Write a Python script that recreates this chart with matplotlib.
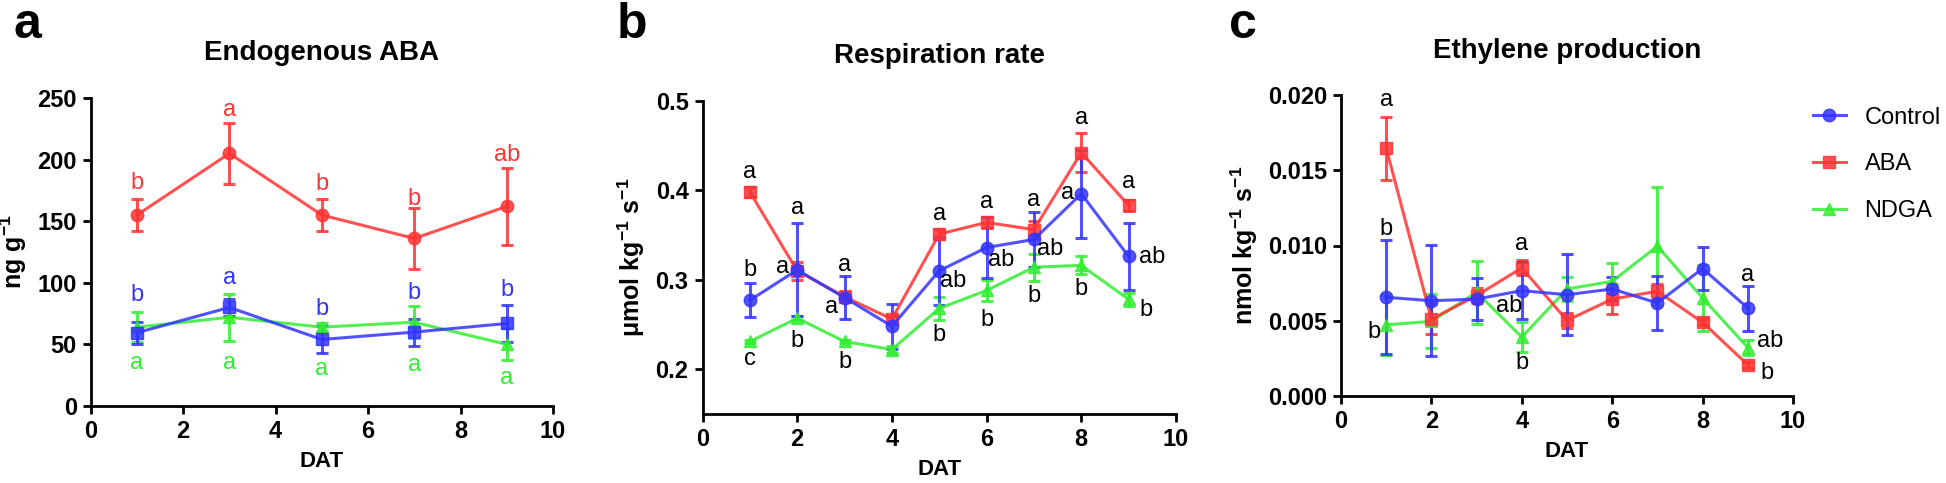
import numpy as np
import matplotlib
matplotlib.use('Agg')
import matplotlib.pyplot as plt
from matplotlib.lines import Line2D

plt.rcParams['font.family'] = ['Liberation Sans', 'DejaVu Sans']
plt.rcParams['mathtext.fontset'] = 'custom'
plt.rcParams['mathtext.rm'] = 'Liberation Sans:bold'
plt.rcParams['mathtext.bf'] = 'Liberation Sans:bold'

# ---- data ----
# a: endogenous ABA (ng g-1)
dat_a = [1, 3, 5, 7, 9]
ctrl_a = [59.5, 80, 54, 60, 67]
ctrl_a_err = [9, 7, 11, 11, 15]
aba_a = [155, 205, 155, 136, 162]
aba_a_err = [13, 25, 13, 25, 31]
ndga_a = [64, 72, 64, 68, 50]
ndga_a_err = [12, 19, 3, 13, 13]

# b: respiration rate (umol kg-1 s-1)
dat_b = [1, 2, 3, 4, 5, 6, 7, 8, 9]
ctrl_b = [0.277, 0.311, 0.280, 0.248, 0.310, 0.336, 0.345, 0.396, 0.326]
ctrl_b_err = [0.019, 0.052, 0.024, 0.025, 0.038, 0.034, 0.031, 0.049, 0.037]
aba_b = [0.398, 0.310, 0.281, 0.256, 0.351, 0.364, 0.356, 0.442, 0.383]
aba_b_err = [0.006, 0.010, 0.006, 0.004, 0.006, 0.006, 0.010, 0.022, 0.006]
ndga_b = [0.231, 0.257, 0.231, 0.222, 0.268, 0.288, 0.314, 0.316, 0.278]
ndga_b_err = [0.002, 0.002, 0.002, 0.004, 0.013, 0.012, 0.015, 0.010, 0.007]

# c: ethylene production (nmol kg-1 s-1)
dat_c = [1, 2, 3, 4, 5, 6, 7, 8, 9]
ctrl_c = [0.00656, 0.00633, 0.00644, 0.0070, 0.00673, 0.00711, 0.00618, 0.00847, 0.00584]
ctrl_c_err = [0.0038, 0.0037, 0.0014, 0.0019, 0.0027, 0.0008, 0.0018, 0.0014, 0.0015]
aba_c = [0.01647, 0.00511, 0.00667, 0.00851, 0.00502, 0.00644, 0.00696, 0.00489, 0.00207]
aba_c_err = [0.0021, 0.0010, 0.0005, 0.0005, 0.0005, 0.0010, 0.0005, 0.0002, 0.0002]
ndga_c = [0.00473, 0.00496, 0.00689, 0.00391, 0.00711, 0.00762, 0.00996, 0.00651, 0.00322]
ndga_c_err = [0.0020, 0.0018, 0.0021, 0.0010, 0.0008, 0.0012, 0.0039, 0.0022, 0.0005]

# significance letters: (x, y, label)
letters_a_aba = [(1, 181, 'b'), (3, 240, 'a'), (5, 180, 'b'), (7, 168, 'b'), (9, 204, 'ab')]
letters_a_ctrl = [(1, 90, 'b'), (3, 104, 'a'), (5, 79, 'b'), (7, 92, 'b'), (9, 94, 'b')]
letters_a_ndga = [(1, 35, 'a'), (3, 35, 'a'), (5, 30, 'a'), (7, 33, 'a'), (9, 23, 'a')]
letters_b = [(1, 0.420, 'a'), (1, 0.311, 'b'), (1, 0.212, 'c'),
             (2, 0.380, 'a'), (1.69, 0.314, 'a'), (2, 0.232, 'b'),
             (3, 0.316, 'a'), (2.72, 0.269, 'a'), (3, 0.208, 'b'),
             (5, 0.373, 'a'), (5.3, 0.2985, 'ab'), (5, 0.2385, 'b'),
             (6, 0.387, 'a'), (6.31, 0.322, 'ab'), (6, 0.255, 'b'),
             (7, 0.389, 'a'), (7.35, 0.334, 'ab'), (7, 0.2815, 'b'),
             (8, 0.481, 'a'), (7.71, 0.397, 'a'), (8, 0.290, 'b'),
             (9, 0.409, 'a'), (9.49, 0.325, 'ab'), (9.36, 0.266, 'b')]
letters_c = [(1, 0.0197, 'a'), (1, 0.0111, 'b'), (0.72, 0.00422, 'b'),
             (4, 0.0101, 'a'), (3.72, 0.0060, 'ab'), (4, 0.00218, 'b'),
             (9, 0.00807, 'a'), (9.49, 0.00367, 'ab'), (9.42, 0.00156, 'b')]

red = (1.0, 0.2, 0.2)
blue = (0.2, 0.2, 1.0)
green = (0.2, 0.93, 0.2)

W, H = 1946, 483
fig = plt.figure(figsize=(W / 100, H / 100), dpi=100)


def make_ax(x0, x1, ytop, ybot):
    ax = fig.add_axes([x0 / W, 1 - ybot / H, (x1 - x0) / W, (ybot - ytop) / H])
    for s in ['top', 'right']:
        ax.spines[s].set_visible(False)
    for s in ['left', 'bottom']:
        ax.spines[s].set_linewidth(2.0)
    ax.tick_params(width=2.0, length=6, labelsize=17, pad=4)
    ax.set_xlim(0, 10)
    ax.set_xticks([0, 2, 4, 6, 8, 10])
    return ax


def series(ax, x, y, e, color, marker):
    ax.errorbar(x, y, yerr=e, color=color, marker=marker, markersize=9,
                linewidth=2.2, elinewidth=2.2, capsize=4.5, capthick=2.2, alpha=0.85)


def bold_ticks(ax):
    for lab in ax.get_xticklabels() + ax.get_yticklabels():
        lab.set_fontweight('bold')


# panel a
ax1 = make_ax(90.7, 553, 98, 406)
series(ax1, dat_a, ndga_a, ndga_a_err, green, '^')
series(ax1, dat_a, ctrl_a, ctrl_a_err, blue, 's')
series(ax1, dat_a, aba_a, aba_a_err, red, 'o')
ax1.set_ylim(0, 250)
ax1.set_yticks([0, 50, 100, 150, 200, 250])
for lst, col in [(letters_a_aba, red), (letters_a_ctrl, blue), (letters_a_ndga, green)]:
    for x, y, t in lst:
        ax1.text(x, y, t, color=col, fontsize=17, ha='center', va='center')
ax1.set_title('Endogenous ABA', fontsize=20, fontweight='bold', pad=27)
ax1.set_xlabel('DAT', fontsize=16, fontweight='bold', labelpad=6)
ax1.set_ylabel(r'ng g$^{-1}$', fontsize=18, fontweight='bold', labelpad=6)
bold_ticks(ax1)

# panel b
ax2 = make_ax(702.5, 1176, 100.7, 414)
series(ax2, dat_b, ndga_b, ndga_b_err, green, '^')
series(ax2, dat_b, aba_b, aba_b_err, red, 's')
series(ax2, dat_b, ctrl_b, ctrl_b_err, blue, 'o')
ax2.set_ylim(0.15, 0.5)
ax2.set_yticks([0.2, 0.3, 0.4, 0.5])
ax2.set_yticklabels(['0.2', '0.3', '0.4', '0.5'])
for x, y, t in letters_b:
    ax2.text(x, y, t, color='black', fontsize=17, ha='center', va='center')
ax2.set_title('Respiration rate', fontsize=20, fontweight='bold', pad=27)
ax2.set_xlabel('DAT', fontsize=16, fontweight='bold', labelpad=6)
ax2.set_ylabel(r'μmol kg$^{-1}$ s$^{-1}$', fontsize=18, fontweight='bold', labelpad=6)
bold_ticks(ax2)

# panel c
ax3 = make_ax(1341, 1793, 95, 396)
series(ax3, dat_c, ndga_c, ndga_c_err, green, '^')
series(ax3, dat_c, aba_c, aba_c_err, red, 's')
series(ax3, dat_c, ctrl_c, ctrl_c_err, blue, 'o')
ax3.set_ylim(0, 0.020)
ax3.set_yticks([0, 0.005, 0.010, 0.015, 0.020])
ax3.set_yticklabels(['0.000', '0.005', '0.010', '0.015', '0.020'])
for x, y, t in letters_c:
    ax3.text(x, y, t, color='black', fontsize=17, ha='center', va='center')
ax3.set_title('Ethylene production', fontsize=20, fontweight='bold', pad=27)
ax3.set_xlabel('DAT', fontsize=16, fontweight='bold', labelpad=6)
ax3.set_ylabel(r'nmol kg$^{-1}$ s$^{-1}$', fontsize=18, fontweight='bold', labelpad=6)
bold_ticks(ax3)

# legend
handles = [Line2D([], [], color=blue, marker='o', markersize=9, linewidth=2.2, alpha=0.85),
           Line2D([], [], color=red, marker='s', markersize=9, linewidth=2.2, alpha=0.85),
           Line2D([], [], color=green, marker='^', markersize=9, linewidth=2.2, alpha=0.85)]
fig.legend(handles, ['Control', 'ABA', 'NDGA'], loc='upper left',
           bbox_to_anchor=(1796 / W, 1 - 90 / H), frameon=False, fontsize=17,
           handlelength=1.4, handletextpad=0.8, labelspacing=1.05, borderpad=0.2)

# panel letters
for x, t in [(27, 'a'), (632, 'b'), (1243, 'c')]:
    fig.text(x / W, 1 - 25 / H, t, fontsize=36, fontweight='bold', ha='center', va='center')

fig.savefig('out.png', dpi=100)
